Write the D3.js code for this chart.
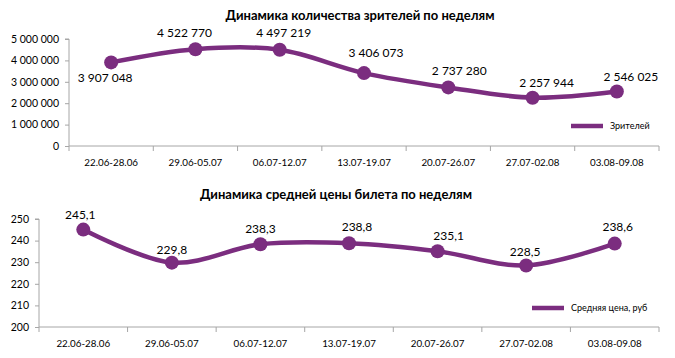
<!DOCTYPE html>
<html><head><meta charset="utf-8">
<script src="https://cdn.jsdelivr.net/npm/d3@7"></script>
<style>
body{margin:0;background:#fff;}
svg{display:block;font-family:Lato,"Open Sans",sans-serif;}
</style></head>
<body><svg id="c" width="675" height="358"></svg>
<script>
const weeks = ["22.06-28.06","29.06-05.07","06.07-12.07","13.07-19.07","20.07-26.07","27.07-02.08","03.08-09.08"];
const viewers = [3907048,4522770,4497219,3406073,2737280,2257944,2546025];
const prices = [245.1,229.8,238.3,238.8,235.1,228.5,238.6];
const viewerTicks = [0,1000000,2000000,3000000,4000000,5000000];
const priceTicks = [200,210,220,230,240,250];
const titles = ["Динамика количества зрителей по неделям","Динамика средней цены билета по неделям"];
const legendNames = ["Зрителей","Средняя цена, руб"];

const color = "#7b2d7f";
const axisColor = "#a6a6a6";
const svg = d3.select("#c");

const fmtInt = v => d3.format(",")(v).replace(/,/g, " ");
const fmtDec = v => d3.format(".1f")(v).replace(".", ",");

function panel(cfg){
  const g = svg.append("g");
  const x = d3.scaleBand().domain(weeks).range([cfg.x0, cfg.x1]);
  const y = d3.scaleLinear().domain(cfg.domain).range([cfg.yb, cfg.yt]);
  // title
  g.append("text").attr("x", cfg.tx).attr("y", cfg.ty).attr("text-anchor","middle")
    .attr("font-weight","bold").attr("font-size",13).attr("fill","#000").text(cfg.title);
  // y axis
  const ya = g.append("g").attr("transform",`translate(${cfg.x0},0)`)
    .call(d3.axisLeft(y).tickValues(cfg.ticks).tickSize(4).tickPadding(6).tickFormat(cfg.tickFmt));
  ya.select(".domain").attr("stroke",axisColor).attr("d",`M-4,${cfg.yt}H0V${cfg.yb}`);
  ya.selectAll(".tick line").attr("stroke",axisColor);
  ya.selectAll(".tick text").attr("font-size",10.5).attr("fill","#000").attr("font-family","Lato");
  // x axis
  const xa = g.append("g").attr("transform",`translate(0,${cfg.yb})`)
    .call(d3.axisBottom(x).tickSize(0).tickPadding(13));
  xa.select(".domain").attr("stroke",axisColor).attr("d",`M${cfg.x0},0H${cfg.x1}`);
  xa.selectAll(".tick text").attr("font-size",9.8).attr("fill","#000").attr("font-family","Lato");
  // category boundary ticks
  g.append("g").selectAll("line").data(weeks.concat(["end"])).join("line")
    .attr("x1",(d,i)=>i<weeks.length? x(d) : cfg.x1).attr("x2",(d,i)=>i<weeks.length? x(d) : cfg.x1)
    .attr("y1",cfg.yb).attr("y2",cfg.yb+5).attr("stroke",axisColor);
  // line
  const line = d3.line().x((d,i)=>x(weeks[i])+x.bandwidth()/2).y(d=>y(d)).curve(d3.curveCardinal.tension(0));
  g.append("path").datum(cfg.values).attr("d",line).attr("fill","none")
    .attr("stroke",color).attr("stroke-width",4.5).attr("stroke-linejoin","round");
  g.append("g").selectAll("circle").data(cfg.values).join("circle")
    .attr("cx",(d,i)=>x(weeks[i])+x.bandwidth()/2).attr("cy",d=>y(d)).attr("r",7).attr("fill",color);
  // labels
  g.append("g").selectAll("text").data(cfg.values).join("text")
    .attr("x",(d,i)=>x(weeks[i])+x.bandwidth()/2+cfg.off[i][0])
    .attr("y",(d,i)=>y(d)+cfg.off[i][1])
    .attr("dy","0.35em").attr("text-anchor","middle").attr("font-size",12).attr("fill","#000")
    .text(cfg.labelFmt);
  // legend
  g.append("line").attr("x1",cfg.lx).attr("x2",cfg.lx+32).attr("y1",cfg.ly).attr("y2",cfg.ly)
    .attr("stroke",color).attr("stroke-width",4.5);
  g.append("text").attr("x",cfg.lx+39).attr("y",cfg.ly).attr("dy","0.35em")
    .attr("font-size",9).attr("fill","#000").text(cfg.legend);
}

panel({x0:69,x1:659,yt:39,yb:146,domain:[0,5000000],ticks:viewerTicks,tickFmt:fmtInt,
  values:viewers,labelFmt:fmtInt,title:titles[0],tx:360,ty:20,legend:legendNames[0],lx:571,ly:126,
  off:[[-6,15],[-11,-16],[4,-17],[12,-20],[11,-17],[14,-15],[14,-15]]});
panel({x0:39,x1:659,yt:219,yb:327,domain:[200,250],ticks:priceTicks,tickFmt:d=>d,
  values:prices,labelFmt:fmtDec,title:titles[1],tx:336,ty:199,legend:legendNames[1],lx:532,ly:308,
  off:[[-3,-15],[0,-13],[0,-15],[8,-16],[11,-15],[-1,-14],[3,-17]]});
</script></body></html>
